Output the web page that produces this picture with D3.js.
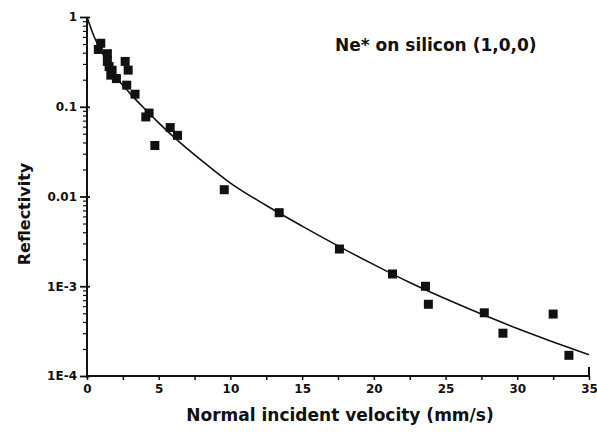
<!DOCTYPE html>
<html>
<head>
<meta charset="utf-8">
<script src="https://cdn.jsdelivr.net/npm/d3@7"></script>
<style>
  body { margin: 0; background: #fff; }
  text { font-family: "DejaVu Sans", sans-serif; font-weight: bold; fill: #111; }
</style>
</head>
<body>
<script>
var width = 597;
var height = 434;

// measured points (velocity mm/s, reflectivity)
var pointV = [0.79, 0.96, 1.42, 1.42, 1.54, 1.66, 1.75, 2.05, 2.66, 2.87, 2.77, 3.35, 4.1, 4.33, 4.73, 5.8, 6.31,
              9.57, 13.4, 17.6, 21.3, 23.6, 23.8, 27.7, 29.0, 32.5, 33.6];
var pointR = [0.435, 0.51, 0.39, 0.32, 0.28, 0.225, 0.255, 0.206, 0.32, 0.256, 0.174, 0.138, 0.077, 0.085, 0.037, 0.0586, 0.048,
              0.0119, 0.0066, 0.0026, 0.00137, 0.001, 0.00063, 0.000506, 0.0003, 0.00049, 0.00017];

// fitted curve
var curveV = [0, 0.5, 1, 2, 3, 4, 5, 6, 8, 10, 12.5, 15, 17.5, 20, 22.5, 25, 27.5, 30, 32.5, 35];
var curveR = [1, 0.603, 0.417, 0.219, 0.141, 0.0955, 0.0661, 0.0468, 0.0251, 0.0141, 0.00794, 0.00468, 0.00282,
              0.00174, 0.0011, 0.000724, 0.00049, 0.000339, 0.00024, 0.000172];

var xTicks = [0, 5, 10, 15, 20, 25, 30, 35];
var yTicks = [1, 0.1, 0.01, 0.001, 0.0001];
var yTickLabels = ["1", "0.1", "0.01", "1E-3", "1E-4"];

var plotLeft = 87, plotRight = 589, plotTop = 17, plotBottom = 376;

var svg = d3.select("body").append("svg")
    .attr("width", width)
    .attr("height", height);

var x = d3.scaleLinear().domain([0, 35]).range([plotLeft, plotRight]);
var y = d3.scaleLog().domain([0.0001, 1]).range([plotBottom, plotTop]);

// x axis: ticks hang below the line, half steps too
var xAxis = d3.axisBottom(x)
    .tickValues(d3.range(0, 35.1, 2.5))
    .tickSize(4)
    .tickFormat(function(d) { return xTicks.indexOf(d) >= 0 ? d : ""; });

var gx = svg.append("g")
    .attr("transform", "translate(0," + plotBottom + ")")
    .call(xAxis);
gx.select(".domain").attr("stroke", "#111").attr("stroke-width", 2)
    .attr("d", "M" + plotLeft + ",0H" + plotRight + "V-9");
gx.selectAll(".tick line").attr("stroke", "#111").attr("stroke-width", 1.5);
gx.selectAll(".tick text").attr("font-size", 12).attr("dy", "0.85em").attr("fill", "#111");

// y axis: log ticks on the left
var minorY = [];
[0.0001, 0.001, 0.01, 0.1].forEach(function(b) {
  for (var k = 1; k < 10; k++) minorY.push(b * k);
});
minorY.push(1);

function isMajor(d) {
  return yTicks.some(function(t) { return Math.abs(t - d) / t < 1e-6; });
}

var yAxis = d3.axisLeft(y)
    .tickValues(minorY)
    .tickSize(4)
    .tickFormat(function(d) {
      var i = yTicks.findIndex(function(t) { return Math.abs(t - d) / t < 1e-6; });
      return i >= 0 ? yTickLabels[i] : "";
    });

var gy = svg.append("g")
    .attr("transform", "translate(" + plotLeft + ",0)")
    .call(yAxis);
gy.select(".domain").attr("stroke", "#111").attr("stroke-width", 2)
    .attr("d", "M0," + plotTop + "V" + (plotBottom + 2));
gy.selectAll(".tick line").attr("stroke", "#111").attr("stroke-width", 1.2);
gy.selectAll(".tick").filter(isMajor)
    .select("line").attr("x1", 3).attr("x2", -7).attr("stroke-width", 1.8);
gy.selectAll(".tick text").attr("font-size", 12).attr("x", -10).attr("fill", "#111");

// fitted curve
var line = d3.line()
    .x(function(d, i) { return x(curveV[i]); })
    .y(function(d, i) { return y(curveR[i]); })
    .curve(d3.curveMonotoneX);

svg.append("path")
    .datum(curveV)
    .attr("d", line)
    .attr("fill", "none")
    .attr("stroke", "#111")
    .attr("stroke-width", 1.6);

// data squares
var sq = 9;
svg.selectAll("rect.pt")
    .data(pointV)
    .enter().append("rect")
    .attr("class", "pt")
    .attr("x", function(d) { return x(d) - sq / 2; })
    .attr("y", function(d, i) { return y(pointR[i]) - sq / 2; })
    .attr("width", sq)
    .attr("height", sq)
    .attr("fill", "#111");

// labels
svg.append("text")
    .attr("x", 335)
    .attr("y", 51)
    .attr("font-size", 17)
    .text("Ne* on silicon (1,0,0)");

svg.append("text")
    .attr("x", 340)
    .attr("y", 421)
    .attr("text-anchor", "middle")
    .attr("font-size", 17)
    .text("Normal incident velocity (mm/s)");

svg.append("text")
    .attr("transform", "translate(30,214) rotate(-90)")
    .attr("text-anchor", "middle")
    .attr("font-size", 16)
    .text("Reflectivity");
</script>
</body>
</html>
